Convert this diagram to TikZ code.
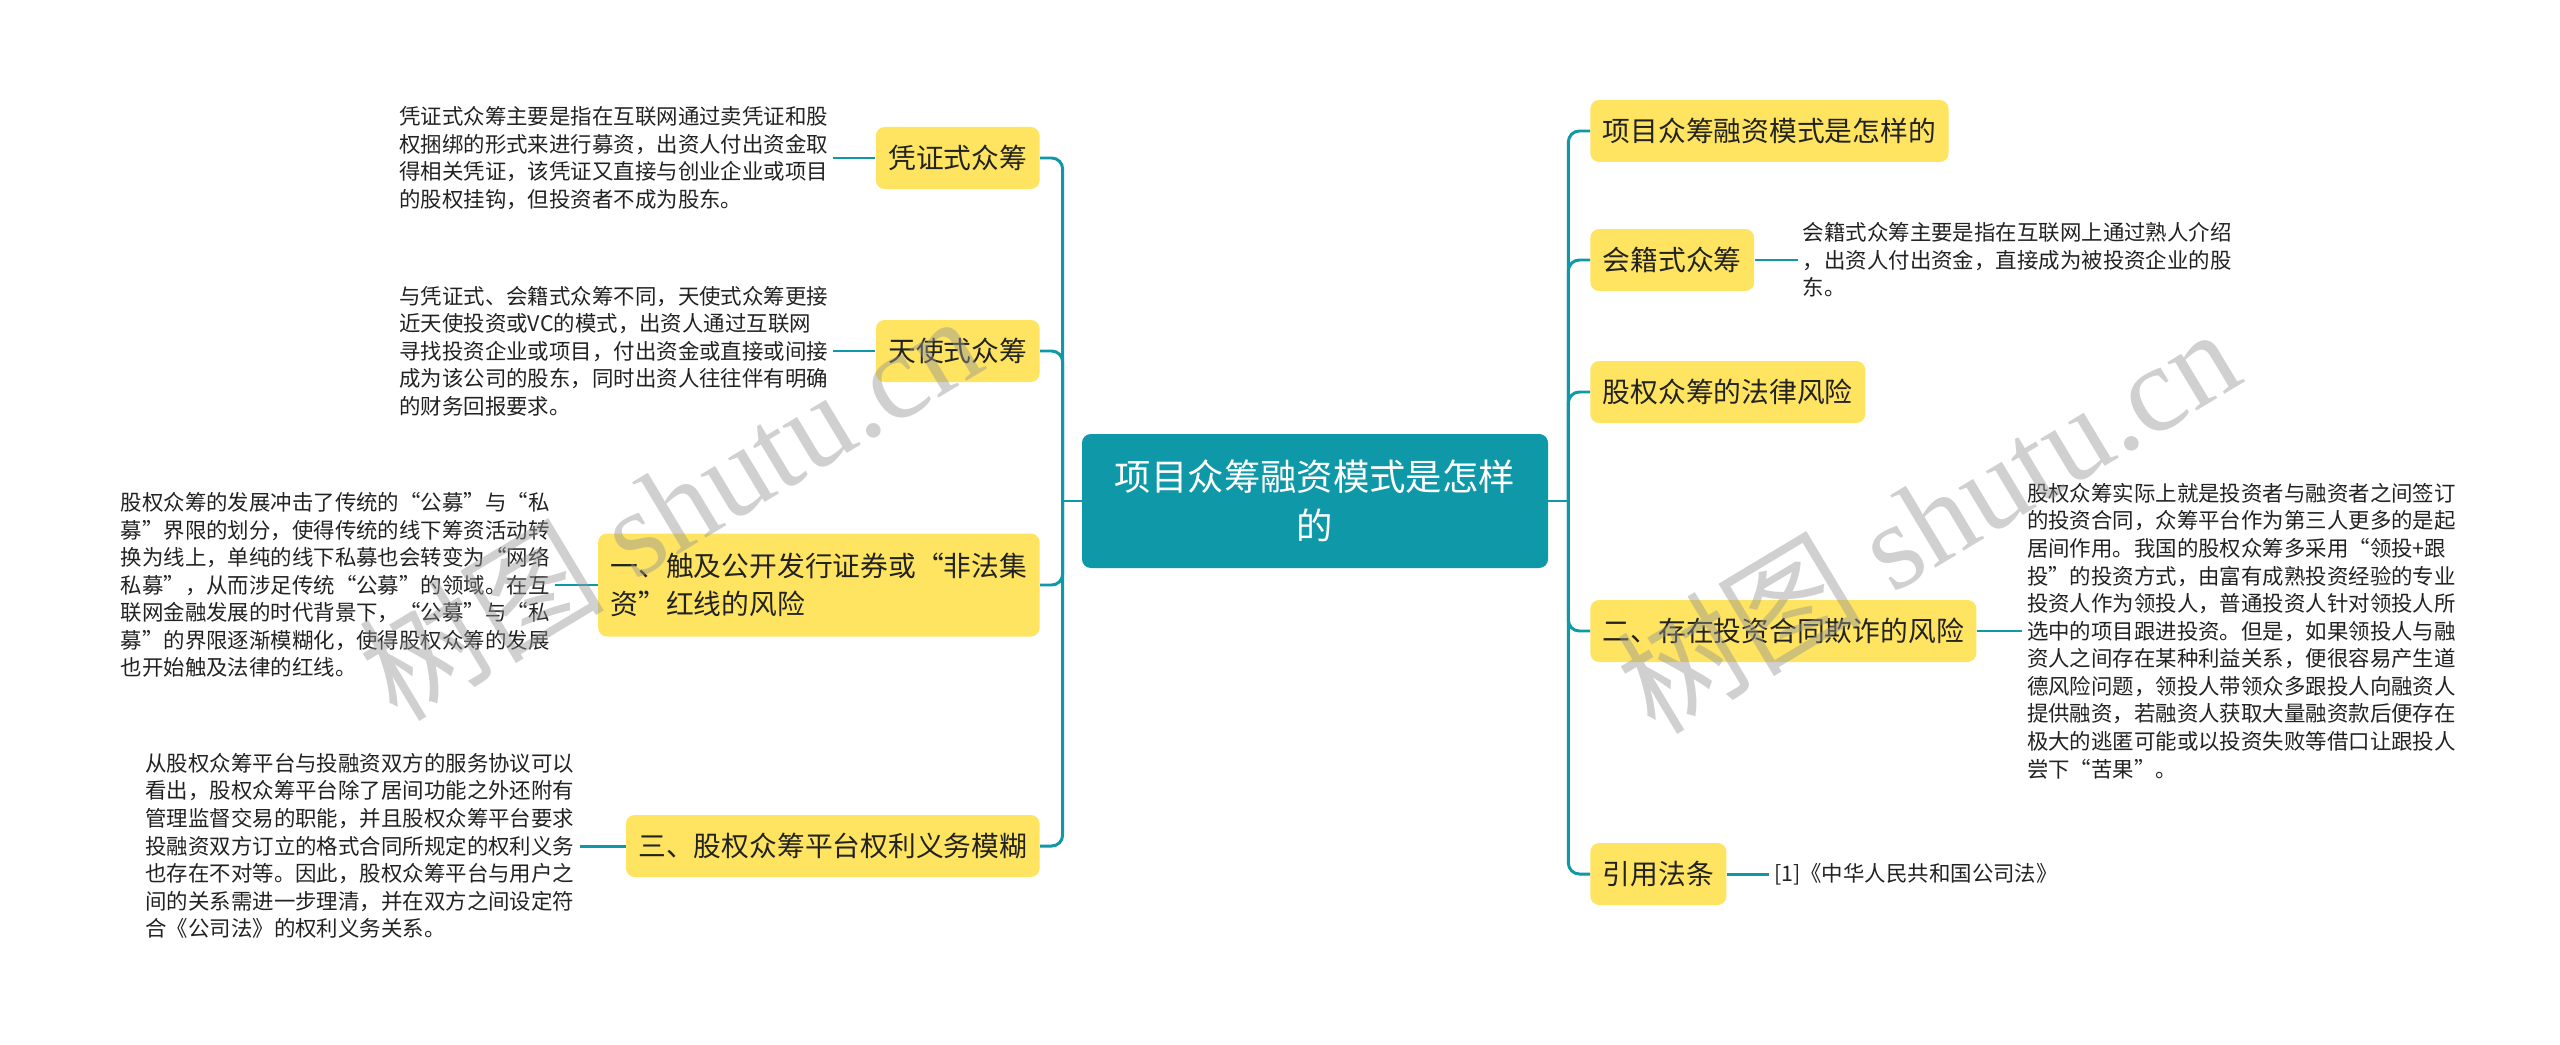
\documentclass[tikz,border=0pt]{standalone}
\usepackage{fontspec}
\newfontfamily\cjk{Noto Sans CJK SC}
\newfontfamily\wmfont{Liberation Serif}
\definecolor{mmteal}{RGB}{14,152,168}
\definecolor{mmyellow}{RGB}{254,228,96}
\definecolor{mmtext}{RGB}{34,34,34}
\definecolor{mmgray}{RGB}{150,150,150}
\usetikzlibrary{positioning}

\begin{document}
\begin{tikzpicture}[
  hub/.style={rectangle, rounded corners=5pt, draw=none, fill=mmteal,
              minimum width=9.32cm, minimum height=2.68cm,
              font=\cjk\fontsize{20.7}{28}\selectfont, align=center, text=white},
  topic/.style={rectangle, rounded corners=5pt, draw=none, fill=mmyellow,
                inner xsep=0.25cm, minimum height=1.24cm,
                font=\cjk\fontsize{15.8}{22}\selectfont, align=left, text=mmtext},
  desc/.style={inner sep=0.1cm, font=\cjk\fontsize{12.2}{15.7}\selectfont,
               align=left, text=mmtext},
  link/.style={draw=mmteal, line width=1.7pt, rounded corners=0.22cm},
  wmark/.style={text=mmgray, text opacity=0.45, font=\wmfont\fontsize{70}{70}\selectfont}
]
\useasboundingbox (0,0) rectangle (51.2,-20.9);

% Center node
\node[hub] (hub) at (26.30,-10.02) {项目众筹融资模式是怎样\\的};

% Left branches
\node[topic, anchor=east] (pz) at (20.80,-3.16)  {凭证式众筹};
\node[topic, anchor=east] (ts) at (20.80,-7.02)  {天使式众筹};
\node[topic, anchor=east, minimum height=2.06cm] (cj) at (20.80,-11.70)
  {一、触及公开发行证券或“非法集\\资”红线的风险};
\node[topic, anchor=east] (sq) at (20.80,-16.92) {三、股权众筹平台权利义务模糊};

% Right branches
\node[topic, anchor=west] (xm) at (31.80,-2.62)  {项目众筹融资模式是怎样的};
\node[topic, anchor=west] (hj) at (31.80,-5.20)  {会籍式众筹};
\node[topic, anchor=west] (fl) at (31.80,-7.84)  {股权众筹的法律风险};
\node[topic, anchor=west] (tz) at (31.80,-12.62) {二、存在投资合同欺诈的风险};
\node[topic, anchor=west] (yy) at (31.80,-17.48) {引用法条};

% Notes
\node[desc, left=0.84cm of pz] (pztext)
  {凭证式众筹主要是指在互联网通过卖凭证和股\\权捆绑的形式来进行募资，出资人付出资金取\\得相关凭证，该凭证又直接与创业企业或项目\\的股权挂钩，但投资者不成为股东。};
\node[desc, left=0.84cm of ts] (tstext)
  {与凭证式、会籍式众筹不同，天使式众筹更接\\近天使投资或VC的模式，出资人通过互联网\\寻找投资企业或项目，付出资金或直接或间接\\成为该公司的股东，同时出资人往往伴有明确\\的财务回报要求。};
\node[desc, left=0.86cm of cj] (cjtext)
  {股权众筹的发展冲击了传统的“公募”与“私\\募”界限的划分，使得传统的线下筹资活动转\\换为线上，单纯的线下私募也会转变为“网络\\私募”，从而涉足传统“公募”的领域。在互\\联网金融发展的时代背景下，“公募”与“私\\募”的界限逐渐模糊化，使得股权众筹的发展\\也开始触及法律的红线。};
\node[desc, left=0.92cm of sq] (sqtext)
  {从股权众筹平台与投融资双方的服务协议可以\\看出，股权众筹平台除了居间功能之外还附有\\管理监督交易的职能，并且股权众筹平台要求\\投融资双方订立的格式合同所规定的权利义务\\也存在不对等。因此，股权众筹平台与用户之\\间的关系需进一步理清，并在双方之间设定符\\合《公司法》的权利义务关系。};
\node[desc, right=0.86cm of hj] (hjtext)
  {会籍式众筹主要是指在互联网上通过熟人介绍\\，出资人付出资金，直接成为被投资企业的股\\东。};
\node[desc, right=0.9cm of tz] (tztext)
  {股权众筹实际上就是投资者与融资者之间签订\\的投资合同，众筹平台作为第三人更多的是起\\居间作用。我国的股权众筹多采用“领投+跟\\投”的投资方式，由富有成熟投资经验的专业\\投资人作为领投人，普通投资人针对领投人所\\选中的项目跟进投资。但是，如果领投人与融\\资人之间存在某种利益关系，便很容易产生道\\德风险问题，领投人带领众多跟投人向融资人\\提供融资，若融资人获取大量融资款后便存在\\极大的逃匿可能或以投资失败等借口让跟投人\\尝下“苦果”。};
\node[desc, right=0.84cm of yy] (yytext) {[1]《中华人民共和国公司法》};

% Trunks
\draw[link] (hub.west) -- ++(-0.38,0) coordinate (lj);
\draw[link] (hub.east) -- ++(0.40,0) coordinate (rj);
\foreach \n in {pz,ts,cj,sq}
  \draw[link] (lj) |- (\n.east);
\foreach \n in {xm,hj,fl,tz,yy}
  \draw[link] (rj) |- (\n.west);

% Note links
\draw[link] (pztext.east) -- (pz.west);
\draw[link] (tstext.east) -- (ts.west);
\draw[link] (cjtext.east) -- (cj.west);
\draw[link] (sqtext.east) -- (sq.west);
\draw[link] (hj.east) -- (hjtext.west);
\draw[link] (tz.east) -- (tztext.west);
\draw[link] (yy.east) -- (yytext.west);

% Watermarks
\node[wmark, rotate=31] (wmleft)  at (13.38,-10.12) {{\cjk 树图} shutu.cn};
\node[wmark, rotate=31] (wmright) at (38.54,-10.38) {{\cjk 树图} shutu.cn};
\end{tikzpicture}
\end{document}
